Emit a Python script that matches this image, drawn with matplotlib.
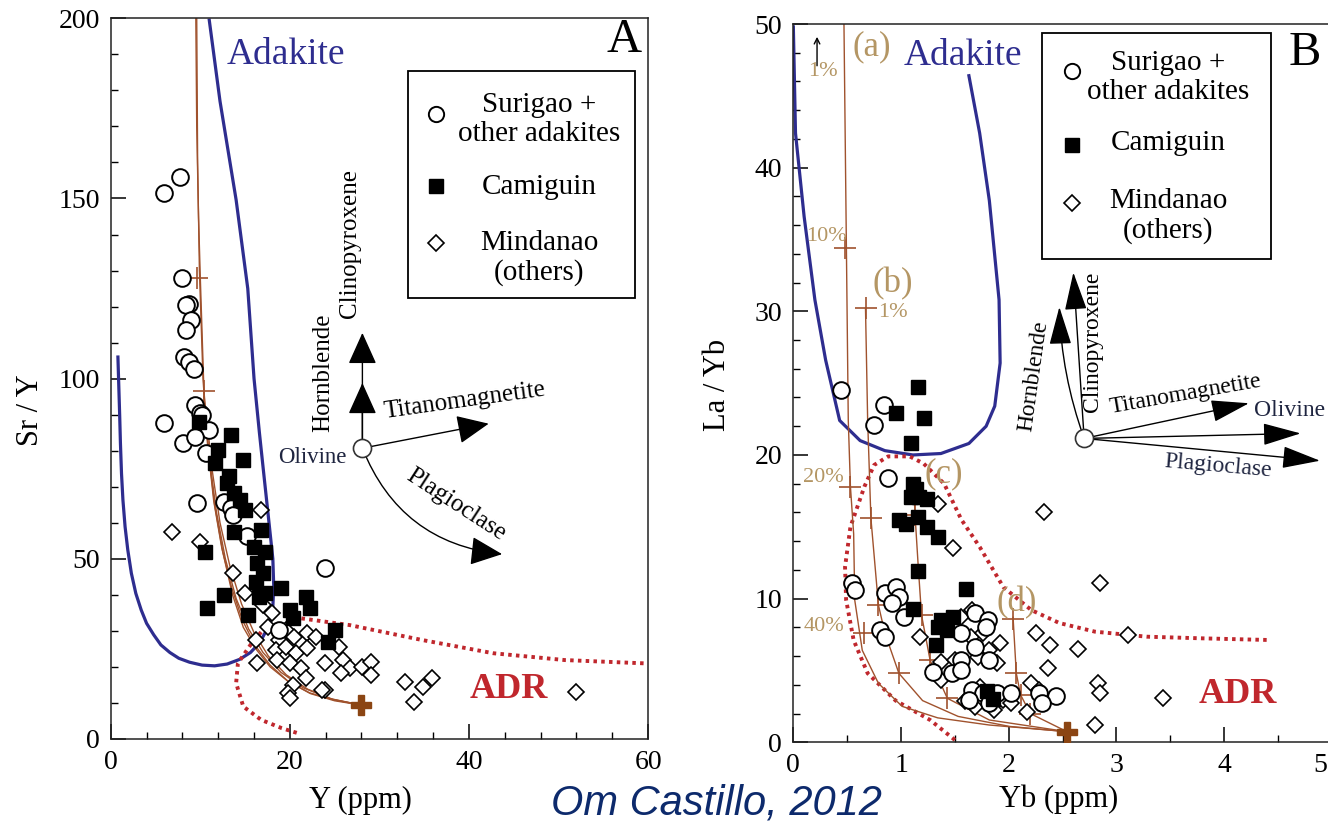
import matplotlib
matplotlib.use("Agg")
import matplotlib.pyplot as plt
from matplotlib.patches import Rectangle

plt.rcParams['font.family'] = ['Liberation Serif', 'DejaVu Serif']

NAVY = '#2e2d8f'
BROWN = '#a0522d'
DARKBROWN = '#8b4513'
RED = '#c0272d'
TAN = '#b49664'

# ---------------------------------------------------------------- panel A data (Y vs Sr/Y)
a_circ_x = [6.0, 7.7, 7.9, 8.7, 8.4, 9.0, 8.4, 8.2, 8.7, 9.3, 9.4, 10.0, 6.0, 10.2, 11.0, 8.1, 9.4,
            10.6, 9.6, 12.6, 13.4, 13.6, 15.2, 23.9, 18.8]
a_circ_y = [151.5, 156, 127.9, 120.7, 120.4, 116.3, 113.5, 106, 104.7, 102.6, 92.7, 90.5, 87.6, 89.9, 85.8, 82.2, 83.9,
            79.3, 65.5, 65.9, 64, 62.2, 56.2, 47.4, 30.3]

a_sq_x = [9.8, 13.4, 12.0, 11.6, 14.8, 13.0, 13.8, 14.4, 15.0, 13.8, 16.8, 16.0, 17.2, 16.3, 17.0, 16.2, 17.2,
          19.0, 16.6, 10.5, 12.6, 10.8, 15.3, 20.0, 20.4, 21.8, 22.3, 25.0, 24.3, 13.2]
a_sq_y = [88.1, 84.4, 80.2, 76.5, 77.4, 71, 68.2, 66.3, 63.6, 57.5, 58, 53.4, 52, 48.8, 46, 43.7, 40.4,
          41.8, 39.5, 52, 40, 36.3, 34.4, 35.8, 33.5, 39.5, 36.3, 30.3, 27, 73]

a_dia_x = [6.8, 10.0, 16.8, 13.6, 15.0, 17.0, 18.0, 16.2, 17.6, 18.8, 19.6, 20.5, 21.9, 22.9, 18.4, 19.6, 20.7,
           21.9, 16.3, 18.6, 20.0, 21.2, 23.9, 25.5, 25.9, 26.7, 25.7, 28.1, 29.1, 29.1, 20.4, 21.8, 19.8,
           23.9, 32.9, 34.9, 35.9, 33.9, 51.9, 20.0, 23.6]
a_dia_y = [57.5, 54.8, 63.6, 46, 40.4, 37.2, 34.9, 27.5, 31.2, 27.5, 30.3, 28.4, 29.3, 28.4, 24.7, 25.6, 23.8,
           25.2, 21, 21.9, 21, 19.6, 21, 25.6, 21.9, 19.6, 18.2, 20.1, 21.5, 17.8, 15, 16.8, 12.7,
           13.6, 15.9, 14.5, 16.8, 10.4, 13.1, 11.4, 13.6]

# adakite field outline
a_adk_x = [11.0, 12.2, 14.0, 15.3, 16.0, 16.6, 17.0, 17.6, 18.1, 18.2, 18.1, 17.8, 17.2, 16.6, 15.6, 14.4,
           13.0, 11.6, 10.2, 8.8, 7.6, 6.6, 5.6, 4.8, 4.0, 3.4, 2.8, 2.3, 1.9, 1.6, 1.36, 1.2, 1.08,
           1.0, 0.8]
a_adk_y = [199.5, 177, 149.6, 125, 100, 85, 75.6, 61.7, 50, 42.3, 36.7, 32.6, 29.3, 26.6, 24.0, 22.1,
           20.8, 20.3, 20.5, 21.3, 22.4, 24.0, 26.1, 28.9, 32.1, 35.8, 40.4, 46.0, 52.5, 58.9, 66.3, 73.7, 82.1,
           89.5, 106]

# ADR field (dotted)
a_adr_x = [59.5, 50.7, 42.7, 34.7, 26.7, 21.2, 17.0, 15.6, 14.2, 14.0, 14.8, 16.8, 19.1, 20.9]
a_adr_y = [21.0, 21.9, 23.8, 27.5, 31.6, 33.5, 30.3, 26.1, 21.0, 15.5, 9.0, 5.3, 3.0, 1.6]

# melting curves
a_melt1_x = [9.5, 9.6, 9.8, 10.0, 10.4, 10.9, 11.6, 12.5, 13.6, 14.8, 16.2, 17.8, 19.8, 22.2, 25.0, 28.0]
a_melt1_y = [200, 170, 145, 128, 97, 80, 65, 52, 40, 31, 25, 20, 16, 12.8, 10.8, 9.4]
a_melt2_x = [9.6, 9.7, 9.9, 10.3, 10.8, 11.5, 12.4, 13.5, 14.7, 16.1, 17.8, 19.8, 22.3, 25.0, 28.0]
a_melt2_y = [200, 160, 130, 100, 82, 66, 53, 42, 33, 26, 20.5, 16, 12.6, 10.6, 9.4]
a_melt3_x = [10.4, 11.0, 11.8, 12.8, 14.0, 15.4, 17.0, 19.0, 21.5, 24.5, 28.0]
a_melt3_y = [95, 78, 63, 50, 39, 30.5, 24, 18.5, 14.2, 11.2, 9.4]
a_melt4_x = [10.6, 11.3, 12.2, 13.3, 14.6, 16.0, 17.6, 19.6, 22.0, 24.8, 28.0]
a_melt4_y = [92, 75, 60, 48, 37.5, 29.5, 23, 17.8, 13.8, 11.0, 9.4]
a_tick_x = [9.6, 10.4]
a_tick_y = [127.9, 96.7]
a_source = (28.0, 9.4)

# ---------------------------------------------------------------- panel B data (Yb vs La/Yb)
b_circ_x = [0.44, 0.84, 0.75, 0.88, 0.54, 0.57, 0.85, 0.95, 0.98, 0.92, 1.03, 0.80, 0.85, 1.69, 1.81, 1.79,
            1.56, 1.69, 1.56, 1.82, 1.47, 1.56, 1.30, 1.66, 1.76, 1.89, 2.02, 1.82, 2.28, 2.44, 2.31, 1.63]
b_circ_y = [24.5, 23.5, 22.1, 18.4, 11.1, 10.6, 10.4, 10.8, 10.1, 9.7, 8.7, 7.8, 7.35, 9.0, 8.5, 8.0,
            7.6, 6.65, 5.7, 5.7, 4.8, 5.0, 4.9, 3.64, 3.4, 3.4, 3.4, 2.7, 3.4, 3.2, 2.7, 2.94]

b_sq_x = [1.16, 1.21, 0.95, 1.09, 1.11, 1.14, 1.17, 1.24, 1.09, 0.98, 1.05, 1.16, 1.24, 1.34, 1.16, 1.60,
          1.11, 1.37, 1.48, 1.34, 1.43, 1.32, 1.80, 1.85]
b_sq_y = [24.7, 22.6, 22.9, 20.8, 18.0, 17.6, 17.1, 16.9, 17.1, 15.5, 15.2, 15.7, 15.0, 14.3, 11.9, 10.7,
          9.3, 8.5, 8.7, 8.0, 7.8, 6.8, 3.6, 3.0]

b_dia_x = [2.33, 1.48, 1.34, 2.85, 3.11, 2.25, 2.38, 2.64, 2.36, 2.21, 2.28, 2.83, 2.85, 3.43, 2.80, 2.17,
           1.18, 1.37, 1.66, 1.56, 1.65, 1.76, 1.92, 1.82, 1.71, 1.89, 1.50, 1.37, 1.73, 1.95, 1.69, 1.86,
           2.02, 1.59]
b_dia_y = [16.0, 13.5, 16.6, 11.1, 7.5, 7.6, 6.8, 6.5, 5.15, 4.1, 3.64, 4.1, 3.4, 3.06, 1.2, 2.13,
           7.35, 5.6, 9.2, 8.7, 7.35, 7.6, 6.9, 6.4, 5.96, 5.5, 5.7, 4.3, 3.87, 2.94, 2.48, 2.25,
           2.7, 2.9]

b_adk_x = [1.63, 1.73, 1.82, 1.91, 1.92, 1.87, 1.79, 1.63, 1.37, 1.11, 0.85, 0.62, 0.43, 0.30, 0.20,
           0.10, 0.02, 0.0]
b_adk_y = [46.4, 42.4, 37.7, 30.8, 26.4, 23.4, 22.0, 20.8, 20.1, 20.0, 20.3, 21.0, 22.4, 26.6, 30.8,
           36.6, 42.4, 49.8]

b_adr_x = [1.50, 1.27, 0.95, 0.69, 0.56, 0.49, 0.48, 0.53, 0.66, 0.75, 0.88, 1.08, 1.21, 1.40, 1.56,
           1.73, 1.95, 2.21, 2.47, 2.80, 3.28, 3.77, 4.41]
b_adr_y = [0.16, 1.55, 2.9, 4.8, 7.1, 9.9, 12.2, 15.0, 17.8, 19.3, 19.9, 19.9, 19.4, 18.0, 15.5,
           13.6, 10.8, 9.2, 8.3, 7.7, 7.35, 7.24, 7.12]

b_ma_x = [0.47, 0.51, 0.53, 0.56, 0.57, 0.64, 0.79, 1.01, 1.34, 1.82, 2.54]
b_ma_y = [50, 22.4, 17.8, 14.5, 9.9, 6.4, 4.1, 2.5, 1.7, 1.2, 0.74]
b_mb_x = [0.67, 0.69, 0.72, 0.79, 0.85, 0.98, 1.20, 1.53, 2.01, 2.54]
b_mb_y = [30.2, 22.4, 15.6, 9.55, 7.6, 4.8, 2.9, 1.8, 1.1, 0.74]
b_mc_x = [1.12, 1.13, 1.16, 1.19, 1.27, 1.43, 1.82, 2.54]
b_mc_y = [17.5, 15.8, 12.2, 8.86, 5.7, 3.06, 1.55, 0.74]
b_md_x = [2.04, 2.07, 2.11, 2.20, 2.54]
b_md_y = [8.7, 4.8, 3.3, 2.0, 0.74]
b_tick_x = [0.48, 0.53, 0.66, 0.67, 0.72, 0.79, 0.98, 1.13, 1.19, 1.27, 1.43, 2.04, 2.07, 2.11, 2.20]
b_tick_y = [34.4, 17.8, 7.6, 30.2, 15.6, 9.55, 4.8, 15.8, 8.86, 5.7, 3.06, 8.6, 4.8, 3.3, 2.0]
b_source = (2.54, 0.74)

legend_lines = ['Surigao +\nother adakites', 'Camiguin', 'Mindanao\n(others)']

fig = plt.figure(figsize=(13.28, 8.22), dpi=100)
axA = fig.add_axes([0.0834, 0.1010, 0.4046, 0.8767])
axB = fig.add_axes([0.5974, 0.0970, 0.4055, 0.8738])


def style_axis(ax):
    for s in ax.spines.values():
        s.set_linewidth(1.1)
        s.set_color('#222222')
    ax.tick_params(which='both', direction='in', top=False, right=False, labelsize=20, pad=8)
    ax.tick_params(which='major', length=11, width=1.1)
    ax.tick_params(which='minor', length=5, width=1.0)


def draw_points(ax, cx, cy, sx, sy, dx, dy):
    ax.plot(dx, dy, 'D', ms=8.5, mfc='white', mec='black', mew=1.2, ls='none', zorder=3)
    ax.plot(cx, cy, 'o', ms=12, mfc='white', mec='black', mew=1.4, ls='none', zorder=4)
    ax.plot(sx, sy, 's', ms=10, mfc='black', mec='black', ls='none', zorder=5)


def draw_legend(ax, left, bottom, right, top, mx, tx, rows):
    ax.add_patch(Rectangle((left, bottom), right - left, top - bottom, transform=ax.transAxes,
                           fill=False, ec='black', lw=1.3, zorder=6))
    (cy, ty1), (sy, ty2), (dy, ty3) = rows
    ax.plot([mx], [cy], 'o', ms=11, mfc='white', mec='black', mew=1.4, transform=ax.transAxes, zorder=7)
    ax.plot([mx], [sy], 's', ms=10, mfc='black', mec='black', transform=ax.transAxes, zorder=7)
    ax.plot([mx], [dy], 'D', ms=8, mfc='white', mec='black', mew=1.2, transform=ax.transAxes, zorder=7)
    for t, y in zip(legend_lines, [ty1, ty2, ty3]):
        ax.text(tx, y, t, transform=ax.transAxes, ha='center', va='center', fontsize=21,
                linespacing=1.15, zorder=7)


def arrow(ax, start, end, rad=0.0, hl=1.0, hw=0.45, ms=20):
    ax.annotate('', xy=end, xytext=start,
                arrowprops=dict(arrowstyle='-|>,head_length=%s,head_width=%s' % (hl, hw),
                                connectionstyle='arc3,rad=%s' % rad, color='black', lw=1.0,
                                mutation_scale=ms, shrinkA=0, shrinkB=0), zorder=6)


dots = (0, (0.9, 1.1))

# ---------------------------------------------------------------- panel A
style_axis(axA)
axA.set_xlim(0, 60)
axA.set_ylim(0, 200)
axA.set_xticks([0, 20, 40, 60])
axA.set_xticks(range(0, 61, 4), minor=True)
axA.set_yticks([0, 50, 100, 150, 200])
axA.set_yticks(range(0, 201, 10), minor=True)

axA.plot(a_adk_x, a_adk_y, color=NAVY, lw=2.3, zorder=2)
axA.plot(a_adr_x, a_adr_y, color=RED, lw=2.8, ls=dots, zorder=2)
for mx_, my_ in [(a_melt1_x, a_melt1_y), (a_melt2_x, a_melt2_y), (a_melt3_x, a_melt3_y), (a_melt4_x, a_melt4_y)]:
    axA.plot(mx_, my_, color=BROWN, lw=1.0, zorder=2)
axA.plot(a_tick_x, a_tick_y, '+', ms=16, mew=1.2, color=BROWN, zorder=2)
draw_points(axA, a_circ_x, a_circ_y, a_sq_x, a_sq_y, a_dia_x, a_dia_y)
axA.plot([a_source[0]], [a_source[1]], 'P', ms=15, color=DARKBROWN, zorder=6)

axA.text(19.5, 190, 'Adakite', color=NAVY, fontsize=27, ha='center', va='center')
axA.text(57.3, 194, 'A', fontsize=35, ha='center', va='center')
axA.text(44.4, 13.6, 'ADR', color=RED, fontsize=26, fontweight='bold', ha='center', va='center')
draw_legend(axA, 0.553, 0.612, 0.975, 0.927, 0.605, 0.797,
            [(0.867, 0.860), (0.767, 0.766), (0.688, 0.667)])

olv_a = (28.1, 80.7)
arrow(axA, olv_a, (28.1, 112.7))
arrow(axA, olv_a, (28.1, 98.8))
arrow(axA, olv_a, (42.2, 87.5))
arrow(axA, olv_a, (43.7, 51.3), rad=0.3)
axA.plot([olv_a[0]], [olv_a[1]], 'o', ms=13, mfc='white', mec='#333333', mew=1.2, zorder=7)
axA.text(23.7, 101.6, 'Hornblende', rotation=90, fontsize=18, ha='center', va='center')
axA.text(26.7, 137.4, 'Clinopyroxene', rotation=90, fontsize=18, ha='center', va='center')
axA.text(39.5, 93.8, 'Titanomagnetite', rotation=8, fontsize=18, ha='center', va='center')
axA.text(38.5, 65.0, 'Plagioclase', rotation=-33, fontsize=18, ha='center', va='center')
axA.text(22.5, 78.0, 'Olivine', fontsize=16.5, ha='center', va='center', color='#1f2540')

axA.text(-0.150, 0.456, 'Sr / Y', transform=axA.transAxes, rotation=90, fontsize=22,
         ha='center', va='center')
axA.text(0.464, -0.085, 'Y (ppm)', transform=axA.transAxes, fontsize=22, ha='center', va='center')

# ---------------------------------------------------------------- panel B
style_axis(axB)
axB.set_xlim(0, 5)
axB.set_ylim(0, 50)
axB.set_xticks([0, 1, 2, 3, 4, 5])
axB.set_xticklabels(['0', '1', '2', '3', '4', ''])
axB.set_xticks([v / 2 for v in range(0, 11)], minor=True)
axB.set_yticks([0, 10, 20, 30, 40, 50])
axB.set_yticks(range(0, 51, 2), minor=True)
# the "5" label sits at the very edge of the picture
fig.text(0.9995, 0.0839, '5', fontsize=20, ha='right', va='top')

axB.plot(b_adk_x, b_adk_y, color=NAVY, lw=2.3, zorder=2)
axB.plot(b_adr_x, b_adr_y, color=RED, lw=2.8, ls=dots, zorder=2)
for mx_, my_ in [(b_ma_x, b_ma_y), (b_mb_x, b_mb_y), (b_mc_x, b_mc_y), (b_md_x, b_md_y)]:
    axB.plot(mx_, my_, color=BROWN, lw=1.0, zorder=2)
axB.plot(b_tick_x, b_tick_y, '+', ms=16, mew=1.2, color=BROWN, zorder=2)
draw_points(axB, b_circ_x, b_circ_y, b_sq_x, b_sq_y, b_dia_x, b_dia_y)
axB.plot([b_source[0]], [b_source[1]], 'P', ms=15, color=DARKBROWN, zorder=6)

axB.text(1.57, 47.8, 'Adakite', color=NAVY, fontsize=27, ha='center', va='center')
axB.text(4.75, 48.0, 'B', fontsize=35, ha='center', va='center')
axB.text(4.13, 3.3, 'ADR', color=RED, fontsize=26, fontweight='bold', ha='center', va='center')
draw_legend(axB, 0.4618, 0.6724, 0.887, 0.987, 0.5176, 0.696,
            [(0.934, 0.926), (0.831, 0.834), (0.751, 0.733)])

for t, x, y, fs in [('(a)', 0.73, 48.4, 25), ('(b)', 0.92, 31.9, 25), ('(c)', 1.40, 18.7, 25),
                    ('(d)', 2.07, 9.7, 25), ('1%', 0.27, 46.7, 16), ('10%', 0.31, 35.2, 16),
                    ('1%', 0.92, 29.9, 16), ('20%', 0.28, 18.4, 16), ('40%', 0.28, 8.05, 16)]:
    axB.text(x, y, t, color=TAN, fontsize=fs, ha='center', va='center', zorder=8)
axB.annotate('', xy=(0.22, 49.3), xytext=(0.22, 46.9),
             arrowprops=dict(arrowstyle='->', color='black', lw=1.0))

olv_b = (2.70, 21.15)
arrow(axB, olv_b, (2.47, 30.3), rad=-0.08, hl=1.2, hw=0.35)
arrow(axB, olv_b, (2.60, 32.7), hl=1.2, hw=0.35)
arrow(axB, olv_b, (4.23, 23.6), hl=1.2, hw=0.35)
arrow(axB, olv_b, (4.71, 21.5), hl=1.2, hw=0.35)
arrow(axB, olv_b, (4.89, 19.6), hl=1.2, hw=0.35)
axB.plot([olv_b[0]], [olv_b[1]], 'o', ms=13, mfc='white', mec='#333333', mew=1.2, zorder=7)
axB.text(2.23, 25.5, 'Hornblende', rotation=82, fontsize=17, ha='center', va='center')
axB.text(2.78, 27.9, 'Clinopyroxene', rotation=90, fontsize=17, ha='center', va='center')
axB.text(3.64, 24.2, 'Titanomagnetite', rotation=10, fontsize=17, ha='center', va='center')
axB.text(4.61, 23.1, 'Olivine', fontsize=17, ha='center', va='center', color='#1f2540')
axB.text(3.94, 19.2, 'Plagioclase', rotation=-5, fontsize=17, ha='center', va='center', color='#1f2540')

axB.text(-0.14, 0.497, 'La / Yb', transform=axB.transAxes, rotation=90, fontsize=22,
         ha='center', va='center')
axB.text(0.493, -0.080, 'Yb (ppm)', transform=axB.transAxes, fontsize=22, ha='center', va='center')

fig.text(716 / 1328, 8 / 822, 'Om Castillo, 2012', family=['Liberation Sans', 'DejaVu Sans'],
         style='italic', fontsize=30, color='#0d2a6c', ha='center', va='baseline')

fig.savefig('out.png', dpi=100)
